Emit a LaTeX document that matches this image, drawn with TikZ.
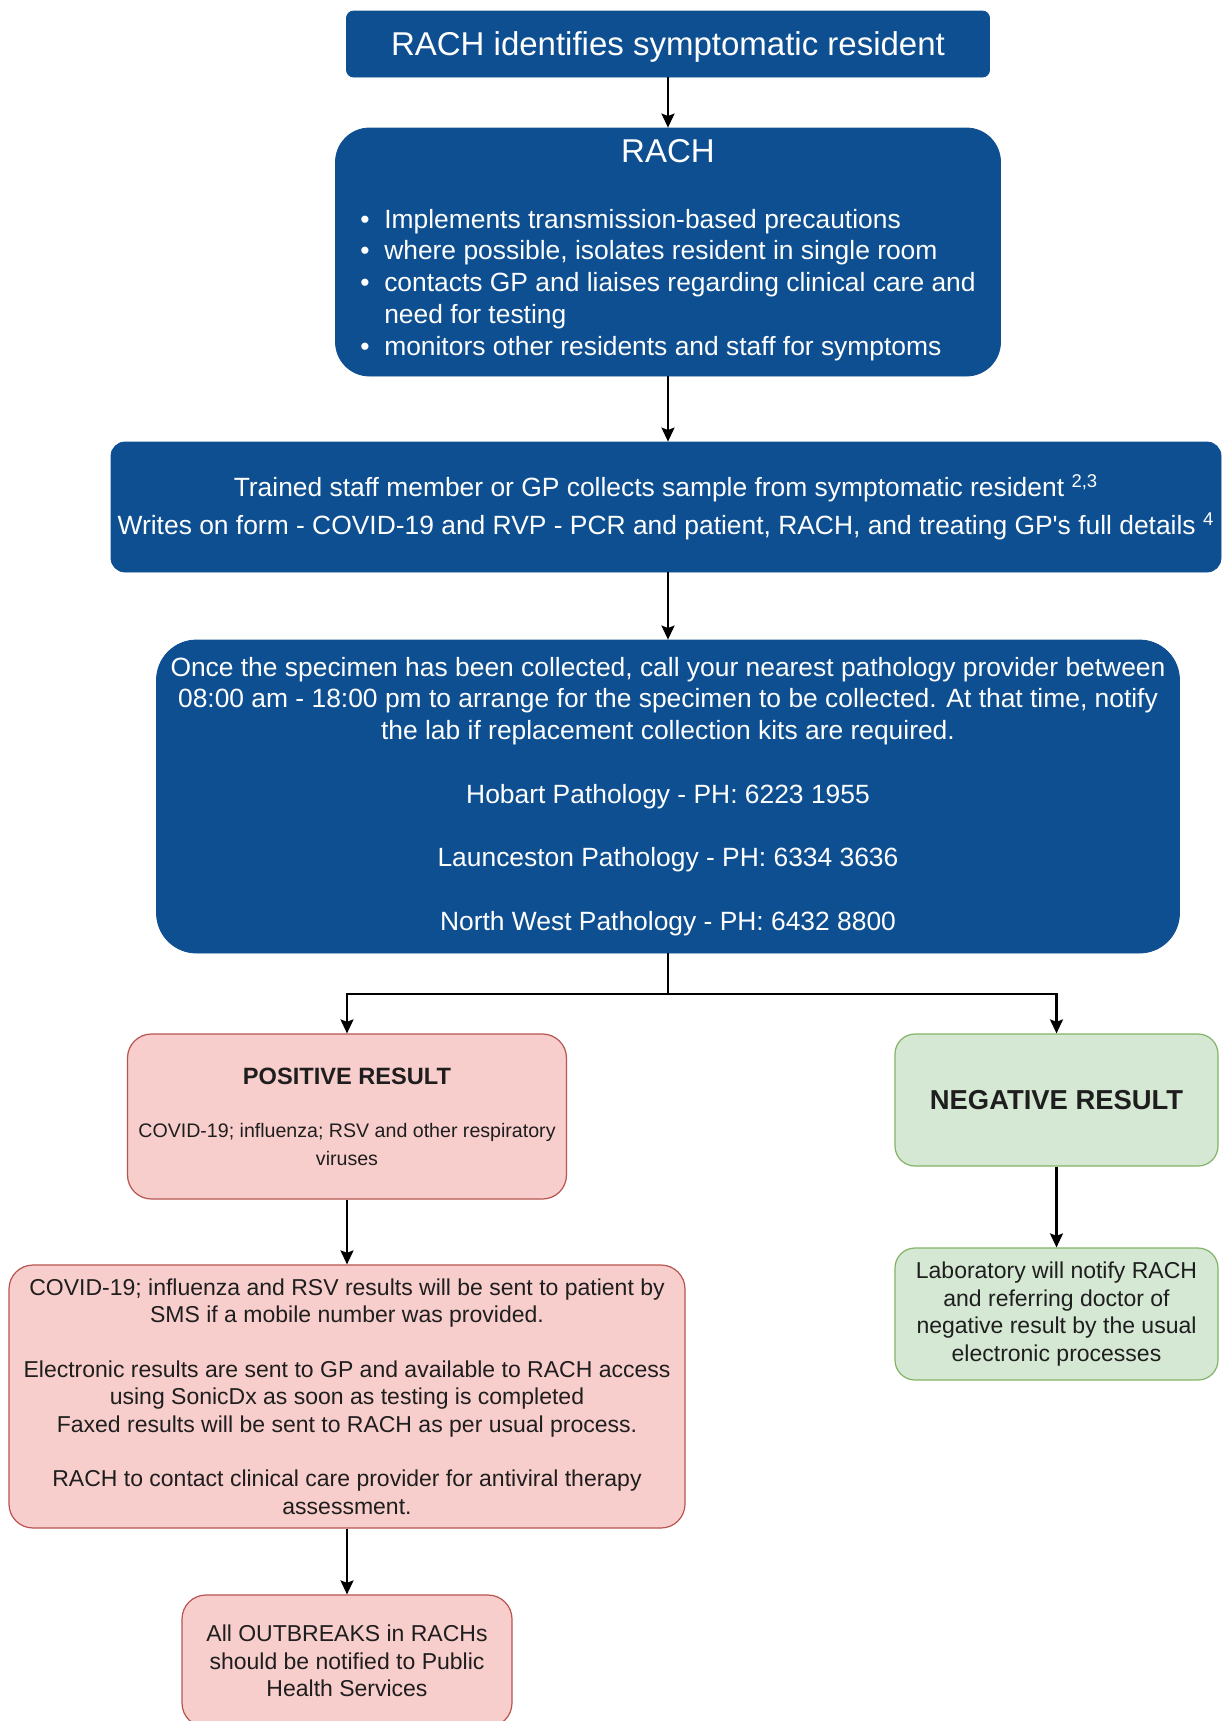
\documentclass[tikz,border=0pt]{standalone}
\usepackage{fontspec}
\setmainfont{Liberation Sans}
\usetikzlibrary{arrows.meta}
\definecolor{rachblue}{RGB}{14,79,145}
\definecolor{pinkfill}{HTML}{F8CECC}
\definecolor{pinkline}{HTML}{B85450}
\definecolor{greenfill}{HTML}{D5E8D4}
\definecolor{greenline}{HTML}{82B366}
\definecolor{darktext}{HTML}{1E1E1E}
\begin{document}
\begin{tikzpicture}[x=0.5pt,y=-0.5pt,
  bluebox/.style={fill=rachblue, draw=rachblue, text=white, align=center, inner sep=0pt,
    font=\fontsize{13.2}{15.9}\selectfont},
  pinkbox/.style={fill=pinkfill, draw=pinkline, line width=0.6pt, text=darktext, align=center,
    inner sep=0pt, rounded corners=12pt, font=\fontsize{11.5}{13.7}\selectfont},
  greenbox/.style={fill=greenfill, draw=greenline, line width=0.6pt, text=darktext, align=center,
    inner sep=0pt, rounded corners=10pt, font=\fontsize{11.5}{13.7}\selectfont},
  arr/.style={-{Stealth[length=7pt,width=6.5pt,inset=1.2pt]}, line width=1.1pt, black},
  link/.style={line width=1.1pt, black}]
\useasboundingbox (0,0) rectangle (1222,1721);

\node[bluebox, rounded corners=3.5pt, minimum width=321.5pt, minimum height=33pt,
  text depth=0pt, font=\fontsize{16.5}{20}\selectfont] (b1) at (668,44) {RACH identifies symptomatic resident};

\node[bluebox, rounded corners=17pt, minimum width=332.5pt, minimum height=124pt] (b2) at (668,252) {%
\begin{tabular}{@{}p{12pt}@{}l@{}}
\multicolumn{2}{@{}c@{}}{\fontsize{16.5}{20}\selectfont RACH}\\[17pt]
\textbullet & Implements transmission-based precautions\\
\textbullet & where possible, isolates resident in single room\\
\textbullet & contacts GP and liaises regarding clinical care and\\
 & need for testing\\
\textbullet & monitors other residents and staff for symptoms
\end{tabular}};

\node[bluebox, rounded corners=7pt, minimum width=555pt, minimum height=65pt,
  font=\fontsize{13.2}{19}\selectfont] (b3) at (666,507)
  {Trained staff member or GP collects sample from symptomatic resident \textsuperscript{2,3}\\
   Writes on form - COVID-19 and RVP - PCR and patient, RACH, and treating GP\textquotesingle s full details \textsuperscript{4}};

\node[bluebox, rounded corners=20pt, minimum width=511.5pt, minimum height=156.5pt] (b4) at (668,796.5)
  {Once the specimen has been collected, call your nearest pathology provider between\\
   08:00 am - 18:00 pm to arrange for the specimen to be collected. At that time, notify\\
   the lab if replacement collection kits are required.\\[15.9pt]
   Hobart Pathology - PH: 6223 1955\\[15.9pt]
   Launceston Pathology - PH: 6334 3636\\[15.9pt]
   North West Pathology - PH: 6432 8800};

\node[pinkbox, minimum width=219.5pt, minimum height=82.5pt] (pos) at (347,1116.5)
  {\fontsize{11.8}{14}\selectfont\bfseries POSITIVE RESULT\\[13pt]
   \fontsize{9.8}{13.2}\selectfont COVID-19; influenza; RSV and other respiratory\\
   \fontsize{9.8}{13.2}\selectfont viruses};

\node[greenbox, minimum width=161.5pt, minimum height=66pt,
  font=\fontsize{13.7}{16}\selectfont\bfseries] (neg) at (1056.5,1100) {NEGATIVE RESULT};

\node[pinkbox, minimum width=338pt, minimum height=131.5pt] (pd) at (347,1396.5)
  {COVID-19; influenza and RSV results will be sent to patient by\\
   SMS if a mobile number was provided.\\[13.7pt]
   Electronic results are sent to GP and available to RACH access\\
   using SonicDx as soon as testing is completed\\
   Faxed results will be sent to RACH as per usual process.\\[13.7pt]
   RACH to contact clinical care provider for antiviral therapy\\
   assessment.};

\node[pinkbox, minimum width=165pt, minimum height=66pt] (out) at (347,1661)
  {All OUTBREAKS in RACHs\\should be notified to Public\\Health Services};

\node[greenbox, minimum width=161.5pt, minimum height=66pt] (nd) at (1056.5,1314)
  {Laboratory will notify RACH\\and referring doctor of\\negative result by the usual\\electronic processes};

\coordinate (br) at (668,994);
\draw[arr] (b1.south) -- (b2.north);
\draw[arr] (b2.south) -- (b2.south |- b3.north);
\draw[arr] (b3.south -| b2.south) -- (b4.north);
\draw[link] (b4.south) -- (br);
\draw[arr] (br) -| (pos.north);
\draw[arr] (br) -| (neg.north);
\draw[arr] (pos.south) -- (pd.north);
\draw[arr] (pd.south) -- (out.north);
\draw[arr] (neg.south) -- (nd.north);
\end{tikzpicture}
\end{document}
